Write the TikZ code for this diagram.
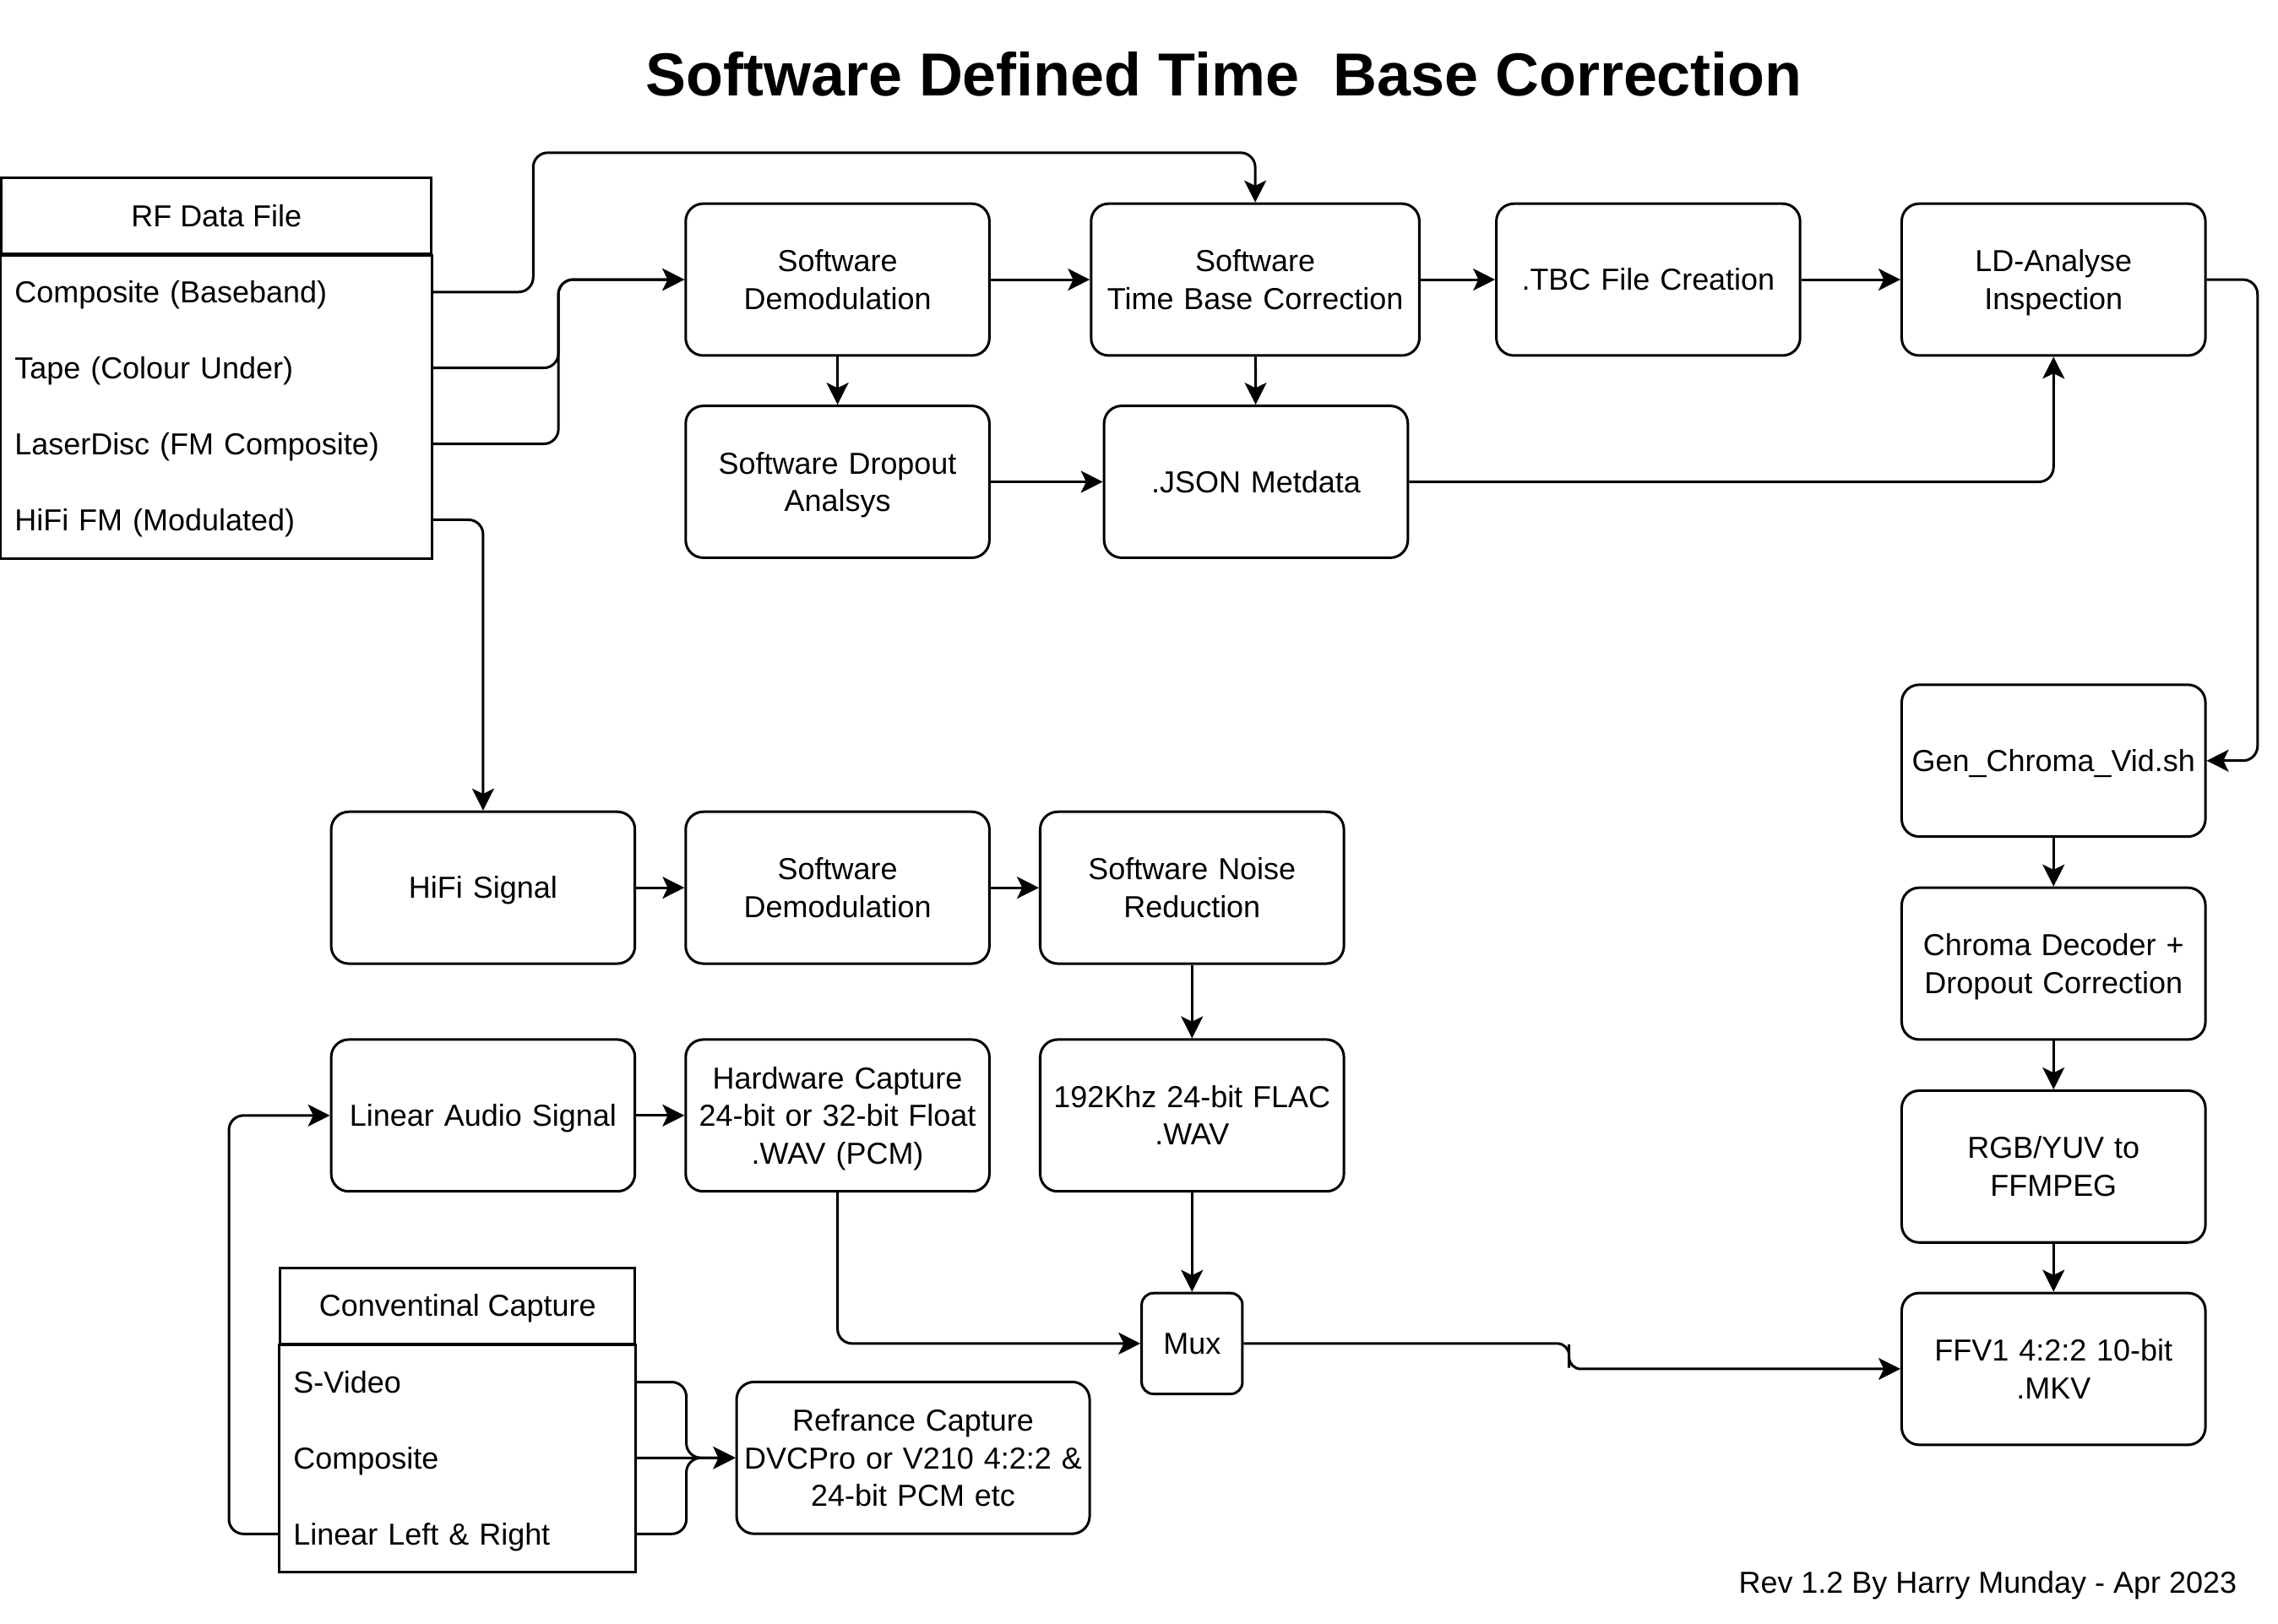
\documentclass[tikz,border=0pt]{standalone}
\usepackage{fontspec}
\setmainfont{Liberation Sans}
\usetikzlibrary{arrows.meta,positioning}
\newcommand{\lnstrut}{\rule[-2.2pt]{0pt}{11.8pt}}
\tikzset{
	every node/.style={font=\fontsize{10.4}{12.9}\selectfont},
	stage/.style={draw,line width=0.87pt,rounded corners=6pt,text width=#1,minimum height=52pt,inner sep=0pt,align=center,execute at begin node=\lnstrut,execute at end node=\lnstrut},
	stage/.default=104pt,
	listhead/.style={draw,line width=0.87pt,minimum height=26pt,inner sep=0pt,execute at begin node=\lnstrut},
	listrow/.style={text width=#1,minimum height=26pt,inner xsep=4.5pt,inner ysep=0pt,align=left,execute at begin node=\lnstrut},
	flow/.style={line width=0.87pt,rounded corners=5pt,-{Stealth[length=7.5pt,width=7.5pt,inset=1.8pt]}},
}

\begin{document}
\begin{tikzpicture}[x=0.49745pt,y=-0.5pt]
	\path[fill=white] (0,0) rectangle (1568,1112.3);
	\useasboundingbox (0,0) rectangle (1568,1112.3);
	\node (title) at (842.5,51) {\fontsize{20.8}{25}\selectfont\bfseries Software Defined Time\ \ Base Correction};
	\node[listhead,minimum width=147.2pt] (rf) at (149,148) {RF Data File};
	\node[listrow=138.2pt] (rfbase) at (149,200) {Composite (Baseband)};
	\node[listrow=138.2pt] (rftape) at (149,252) {Tape (Colour Under)};
	\node[listrow=138.2pt] (rfld) at (149,304) {LaserDisc (FM Composite)};
	\node[listrow=138.2pt] (rfhifi) at (149,356) {HiFi FM (Modulated)};
	\draw[line width=0.87pt] (rf.south west) rectangle (rfhifi.south east);
	\node[stage] (demodA) at (576.5,191.5) {Software\\Demodulation};
	\node[stage=112.4pt] (tbc) at (864,191.5) {Software\\Time Base Correction};
	\node[stage] (tbcfile) at (1134.5,191.5) {.TBC File Creation};
	\node[stage] (ldan) at (1413.5,191.5) {LD-Analyse\\Inspection};
	\node[stage] (dropout) at (576.5,330) {Software Dropout\\Analsys};
	\node[stage] (json) at (864.5,330) {.JSON Metdata};
	\node[stage] (gen) at (1413.5,521) {Gen\_Chroma\_Vid.sh};
	\node[stage] (chroma) at (1413.5,660) {Chroma Decoder +\\Dropout Correction};
	\node[stage] (rgb) at (1413.5,799) {RGB/YUV to\\FFMPEG};
	\node[stage] (ffv1) at (1413.5,937.6) {FFV1 4:2:2 10-bit\\.MKV};
	\node[stage] (hifi) at (332.5,608) {HiFi Signal};
	\node[stage] (demodB) at (576.5,608) {Software\\Demodulation};
	\node[stage] (noise) at (820.5,608) {Software Noise\\Reduction};
	\node[stage] (linaudio) at (332.5,764) {Linear Audio Signal};
	\node[stage] (hwcap) at (576.5,764) {Hardware Capture\\24-bit or 32-bit Float\\.WAV (PCM)};
	\node[stage] (flac) at (820.5,764) {192Khz 24-bit FLAC\\.WAV};
	\node[stage=34.5pt,minimum height=34.5pt,rounded corners=4pt] (mux) at (820.5,920.2) {Mux};
	\node[listhead,minimum width=121.4pt] (cc) at (315,894.3) {Conventinal Capture};
	\node[listrow=112.4pt] (ccsv) at (315,946.6) {S-Video};
	\node[listrow=112.4pt] (cccomp) at (315,998.6) {Composite};
	\node[listrow=112.4pt] (cclin) at (315,1050.6) {Linear Left \& Right};
	\draw[line width=0.87pt] (cc.south west) rectangle (cclin.south east);
	\node[stage=120.9pt] (refcap) at (628.5,998.5) {Refrance Capture\\DVCPro or V210 4:2:2 \&\\24-bit PCM etc};
	\node[anchor=east,inner sep=0pt,execute at begin node=\lnstrut] (rev) at (1540,1084) {Rev 1.2 By Harry Munday - Apr 2023};
	\coordinate (toploop) at (367,104.6);
	\coordinate (muxstep) at (1080,928.8);
	\draw[flow] (rfbase.east) -| (toploop) -| (tbc.north);
	\draw[flow] (rftape.east) -- ++(87,0) |- (demodA.west);
	\draw[flow] (rfld.east) -- ++(87,0) |- (demodA.west);
	\draw[flow] (rfhifi.east) -| (hifi.north);
	\draw[flow] (demodA) -- (tbc);
	\draw[flow] (demodA) -- (dropout);
	\draw[flow] (tbc) -- (json);
	\draw[flow] (dropout) -- (json);
	\draw[flow] (tbc) -- (tbcfile);
	\draw[flow] (tbcfile) -- (ldan);
	\draw[flow] (json.east) -| (ldan.south);
	\draw[flow] (ldan.east) -- ++(35,0) |- (gen.east);
	\draw[flow] (gen) -- (chroma);
	\draw[flow] (chroma) -- (rgb);
	\draw[flow] (rgb) -- (ffv1);
	\draw[flow] (hifi) -- (demodB);
	\draw[flow] (demodB) -- (noise);
	\draw[flow] (noise) -- (flac);
	\draw[flow] (flac) -- (mux);
	\draw[flow] (linaudio) -- (hwcap);
	\draw[flow] (hwcap.south) |- (mux.west);
	\draw[flow,rounded corners=4pt] (mux.east) -| (muxstep) |- (ffv1.west);
	\draw[flow] (cclin.west) -- ++(-35,0) |- (linaudio.west);
	\draw[flow] (ccsv.east) -- ++(35,0) |- (refcap.west);
	\draw[flow] (cccomp.east) -- (refcap.west);
	\draw[flow] (cclin.east) -- ++(35,0) |- (refcap.west);
\end{tikzpicture}
\end{document}
